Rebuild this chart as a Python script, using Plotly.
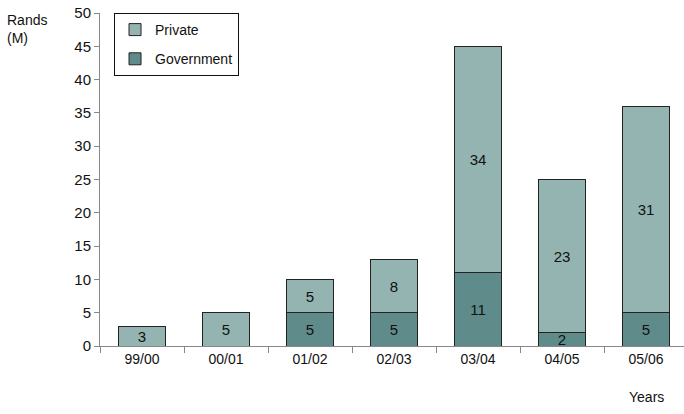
import plotly.graph_objects as go

years = ["99/00", "00/01", "01/02", "02/03", "03/04", "04/05", "05/06"]
government = [None, None, 5, 5, 11, 2, 5]
private = [3, 5, 5, 8, 34, 23, 31]
yticks = [0, 5, 10, 15, 20, 25, 30, 35, 40, 45, 50]

FONT = "Liberation Sans Narrow, Arial Narrow, Liberation Sans, Arial, sans-serif"
light = "#93b4b0"
dark = "#5f8c8a"

def labels(vals):
    return ["" if v is None else str(v) for v in vals]

fig = go.Figure()
fig.add_trace(go.Bar(
    x=years, y=government, name="Government", legendgroup="g", legendrank=2,
    marker=dict(color=dark, line=dict(color="#222222", width=1)),
    text=labels(government), textposition="inside", insidetextanchor="middle",
    textangle=0,
    textfont=dict(size=15, color="#111111", family=FONT), width=0.57,
))
fig.add_trace(go.Bar(
    x=years, y=private, name="Private", legendgroup="p", legendrank=1,
    marker=dict(color=light, line=dict(color="#222222", width=1)),
    text=labels(private), textposition="inside", insidetextanchor="middle",
    textangle=0,
    textfont=dict(size=15, color="#111111", family=FONT), width=0.57,
))

fig.update_layout(
    width=684, height=414,
    margin=dict(l=100, r=0, t=13, b=68),
    barmode="stack",
    plot_bgcolor="white", paper_bgcolor="white",
    font=dict(family=FONT, size=14, color="#111111"),
    uniformtext=dict(minsize=15, mode="show"),
    showlegend=True,
    legend=dict(
        x=0.024, y=1, xanchor="left", yanchor="top",
        bordercolor="#111111", borderwidth=1,
        font=dict(size=14, family=FONT),
        traceorder="grouped", tracegroupgap=8,
        itemwidth=30,
    ),
    xaxis=dict(
        type="category", range=[-0.5, 6.452],
        showline=True, linecolor="#888888", linewidth=1,
        ticks="outside", ticklen=6, tickcolor="#888888", tickson="boundaries",
        showgrid=False, tickfont=dict(size=14, family=FONT),
    ),
    yaxis=dict(
        range=[0, 50], tickvals=yticks,
        showline=True, linecolor="#888888", linewidth=1,
        ticks="outside", ticklen=5, tickcolor="#888888",
        showgrid=False, zeroline=False, tickfont=dict(size=15, family=FONT),
    ),
    annotations=[
        dict(text="Rands<br>(M)", xref="paper", yref="paper", x=-0.163, y=1,
             xanchor="left", yanchor="top", yshift=3, align="left",
             showarrow=False, font=dict(size=14, family=FONT)),
        dict(text="Years", xref="x", yref="paper", x=6, y=-0.153,
             xanchor="center", yanchor="middle", showarrow=False,
             font=dict(size=14, family=FONT)),
    ],
)

fig.write_html("out.html")
